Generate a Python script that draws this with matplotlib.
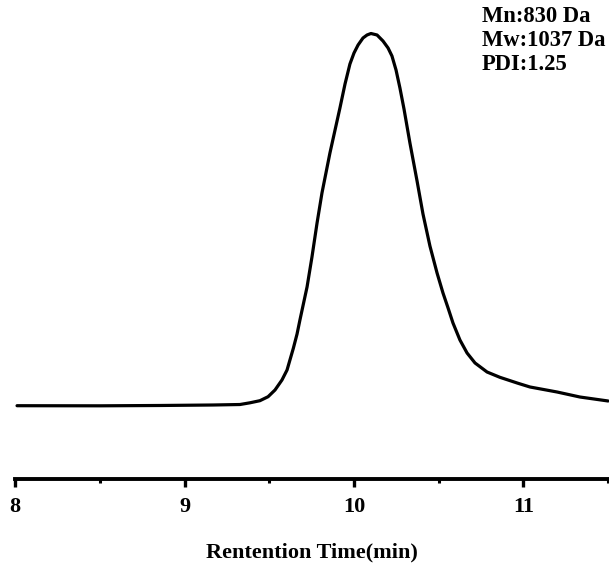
import matplotlib.pyplot as plt

plt.rcParams['font.family'] = ['Liberation Serif', 'DejaVu Serif']
plt.rcParams['font.weight'] = 'bold'

# GPC trace (retention time in min, relative signal)
time = [8.012, 8.501, 8.855, 9.168, 9.327, 9.386, 9.445, 9.493, 9.534, 9.575,
        9.605, 9.622, 9.642, 9.664, 9.681, 9.723, 9.752, 9.782, 9.811, 9.858,
        9.917, 9.947, 9.976, 10.0, 10.024, 10.053, 10.077, 10.1, 10.136,
        10.171, 10.201, 10.224, 10.248, 10.271, 10.295, 10.33, 10.372, 10.407,
        10.448, 10.49, 10.525, 10.555, 10.584, 10.625, 10.667, 10.714, 10.785,
        10.861, 10.968, 11.038, 11.198, 11.333, 11.499]
signal = [-0.0019, -0.0022, -0.0013, 0.0, 0.0013, 0.0059, 0.0116, 0.0223,
          0.0404, 0.0673, 0.0942, 0.1211, 0.1525, 0.1911, 0.2288, 0.3177,
          0.3984, 0.4899, 0.5707, 0.6783, 0.7995, 0.8641, 0.9179, 0.9475,
          0.969, 0.9879, 0.996, 1.0, 0.996, 0.9798, 0.961, 0.9394, 0.9017,
          0.8533, 0.7968, 0.7052, 0.603, 0.5141, 0.428, 0.3553, 0.3015,
          0.2611, 0.2207, 0.175, 0.14, 0.1131, 0.0888, 0.0745, 0.0584, 0.0485,
          0.035, 0.0215, 0.0108]
info = ['Mn:830 Da', 'Mw:1037 Da', 'PDI:1.25']

fig = plt.figure(figsize=(6.09, 5.63), dpi=100)
ax = fig.add_axes([15 / 609, 1 - 479 / 563, 594 / 609, 479 / 563])
ax.plot(time, signal, color='black', lw=2.3, solid_joinstyle='round',
        solid_capstyle='round')

ax.set_xlim(8, 8 + 594 / 169.5)
ax.set_ylim((405 - 479) / 371.5, 405 / 371.5)
ax.set_xticks([8, 9, 10, 11])
ax.set_xticks([8.5, 9.5, 10.5, 11.5], minor=True)
ax.set_yticks([])
for s in ['top', 'left', 'right']:
    ax.spines[s].set_visible(False)
ax.spines['bottom'].set_linewidth(2.8)
ax.tick_params(axis='x', which='major', length=6, width=2.4, labelsize=16, pad=7)
ax.tick_params(axis='x', which='minor', length=3, width=2.2)
ax.set_xlabel('Rentention Time(min)', fontsize=16, fontweight='bold', labelpad=18)

for i, t in enumerate(info):
    fig.text(482 / 609, 1 - (17 + 24 * i) / 563, t, fontsize=16.3,
             fontweight='bold', va='center', ha='left')

fig.savefig('out.png', dpi=100)
